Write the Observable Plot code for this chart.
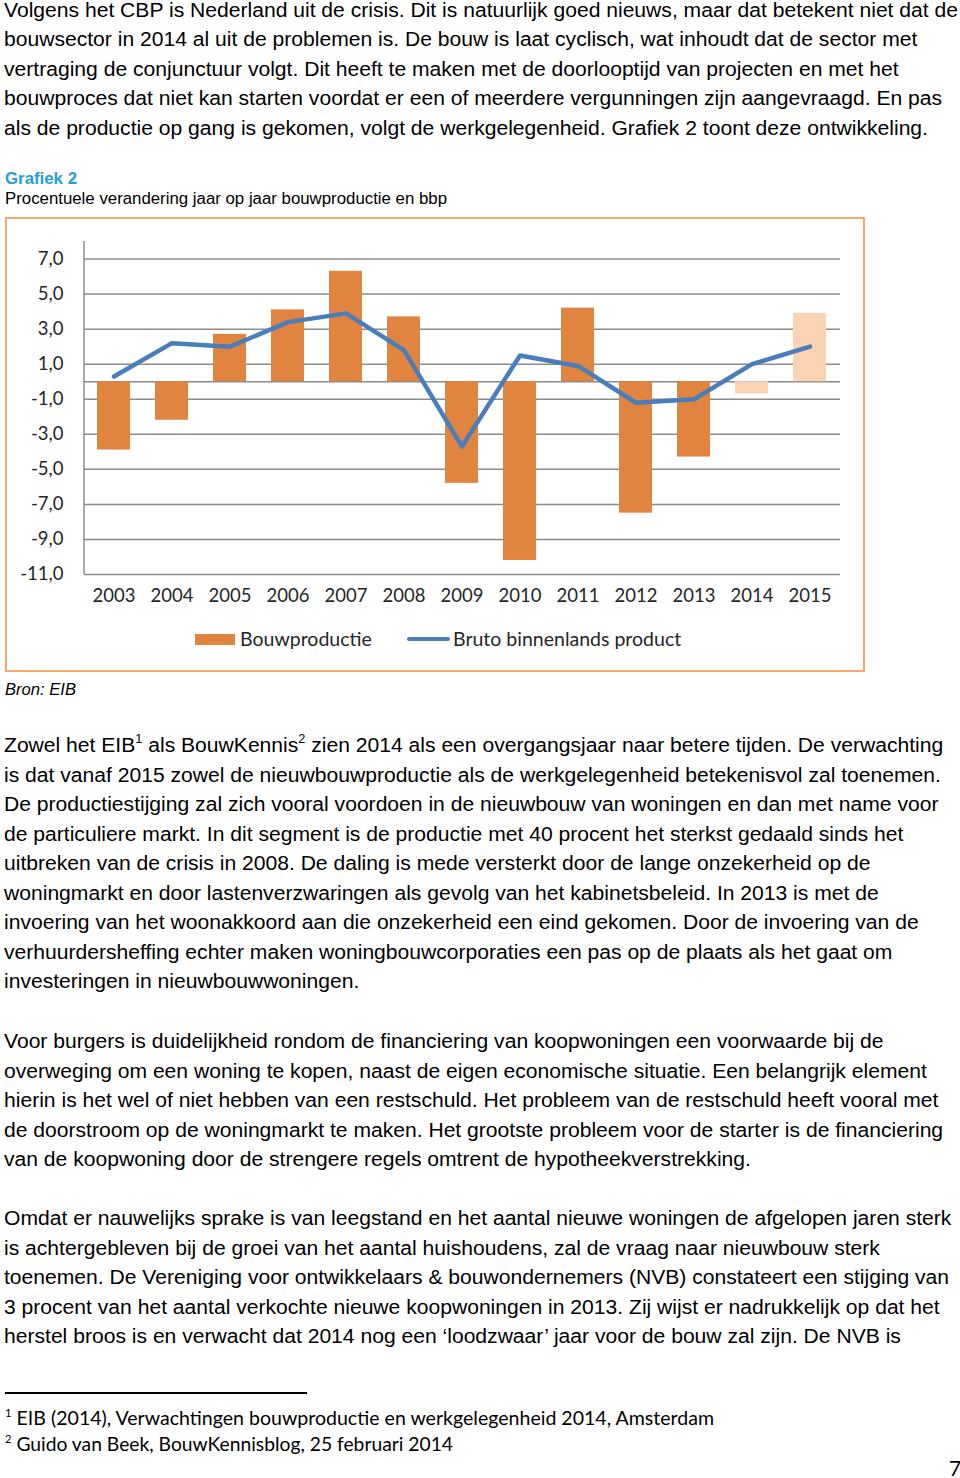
<!DOCTYPE html>
<html><head><meta charset="utf-8">
<script src="https://cdn.jsdelivr.net/npm/d3@7"></script>
<script src="https://cdn.jsdelivr.net/npm/@observablehq/plot@0.6"></script>
<style>
html,body{margin:0;padding:0;background:#fff}
body{width:960px;height:1478px;position:relative;overflow:hidden;font-family:"Liberation Sans",Arial,sans-serif;color:#000}
.ln{position:absolute;left:4px;white-space:nowrap;font-size:20px;line-height:24px;transform-origin:0 50%}
.ln sup{font-size:12px;line-height:0;vertical-align:9px}
.cal{font-family:Lato,"Open Sans",sans-serif}
#box{position:absolute;left:5px;top:217px;width:856px;height:451px;border:2px solid #F5AA6C}
#chart{position:absolute;left:0;top:218px}
.leg{position:absolute;font-family:Lato,sans-serif;font-size:19.5px;line-height:22px;color:#262626;white-space:nowrap}
</style></head><body>
<div id="box"></div>
<div id="chart"></div>
<script>
// ---------- chart data ----------
const years = ["2003","2004","2005","2006","2007","2008","2009","2010","2011","2012","2013","2014","2015"];
const bouwproductie = [-3.9,-2.2,2.7,4.1,6.3,3.7,-5.8,-10.2,4.2,-7.5,-4.3,-0.7,3.9];
const bbp = [0.3,2.2,2.0,3.4,3.9,1.8,-3.7,1.5,0.9,-1.2,-1.0,1.0,2.0];
const forecastYears = ["2014","2015"];
const yTicks = [7,5,3,1,-1,-3,-5,-7,-9,-11];
const seriesNames = ["Bouwproductie","Bruto binnenlands product"];

// ---------- page text ----------
const para1 = [
"Volgens het CBP is Nederland uit de crisis. Dit is natuurlijk goed nieuws, maar dat betekent niet dat de",
"bouwsector in 2014 al uit de problemen is. De bouw is laat cyclisch, wat inhoudt dat de sector met",
"vertraging de conjunctuur volgt. Dit heeft te maken met de doorlooptijd van projecten en met het",
"bouwproces dat niet kan starten voordat er een of meerdere vergunningen zijn aangevraagd. En pas",
"als de productie op gang is gekomen, volgt de werkgelegenheid. Grafiek 2 toont deze ontwikkeling."];
const para2 = [
"Zowel het EIB<sup>1</sup> als BouwKennis<sup>2</sup> zien 2014 als een overgangsjaar naar betere tijden. De verwachting",
"is dat vanaf 2015 zowel de nieuwbouwproductie als de werkgelegenheid betekenisvol zal toenemen.",
"De productiestijging zal zich vooral voordoen in de nieuwbouw van woningen en dan met name voor",
"de particuliere markt. In dit segment is de productie met 40 procent het sterkst gedaald sinds het",
"uitbreken van de crisis in 2008. De daling is mede versterkt door de lange onzekerheid op de",
"woningmarkt en door lastenverzwaringen als gevolg van het kabinetsbeleid. In 2013 is met de",
"invoering van het woonakkoord aan die onzekerheid een eind gekomen. Door de invoering van de",
"verhuurdersheffing echter maken woningbouwcorporaties een pas op de plaats als het gaat om",
"investeringen in nieuwbouwwoningen."];
const para3 = [
"Voor burgers is duidelijkheid rondom de financiering van koopwoningen een voorwaarde bij de",
"overweging om een woning te kopen, naast de eigen economische situatie. Een belangrijk element",
"hierin is het wel of niet hebben van een restschuld. Het probleem van de restschuld heeft vooral met",
"de doorstroom op de woningmarkt te maken. Het grootste probleem voor de starter is de financiering",
"van de koopwoning door de strengere regels omtrent de hypotheekverstrekking."];
const para4 = [
"Omdat er nauwelijks sprake is van leegstand en het aantal nieuwe woningen de afgelopen jaren sterk",
"is achtergebleven bij de groei van het aantal huishoudens, zal de vraag naar nieuwbouw sterk",
"toenemen. De Vereniging voor ontwikkelaars &amp; bouwondernemers (NVB) constateert een stijging van",
"3 procent van het aantal verkochte nieuwe koopwoningen in 2013. Zij wijst er nadrukkelijk op dat het",
"herstel broos is en verwacht dat 2014 nog een ‘loodzwaar’ jaar voor de bouw zal zijn. De NVB is"];
const chartTitle = "Grafiek 2";
const chartSubtitle = "Procentuele verandering jaar op jaar bouwproductie en bbp";
const source = "Bron: EIB";
const footnotes = ["EIB (2014), Verwachtingen bouwproductie en werkgelegenheid 2014, Amsterdam",
                   "Guido van Beek, BouwKennisblog, 25 februari 2014"];

function addLine(html, center, cls, style) {
  const el = document.createElement("div");
  el.className = "ln " + (cls || "");
  el.innerHTML = html;
  el.style.top = (center - 12) + "px";
  if (style) Object.assign(el.style, style);
  document.body.appendChild(el);
  return el;
}
function fitW(el, w) {
  const r = el.getBoundingClientRect().width;
  el.style.transform = `scaleX(${w / r})`;
}

const bodyEls = [];
para1.forEach((t, i) => bodyEls.push(addLine(t, 10 + i * 29.4)));
para2.forEach((t, i) => bodyEls.push(addLine(t, 745 + i * 29.5)));
para3.forEach((t, i) => bodyEls.push(addLine(t, 1041 + i * 29.5)));
para4.forEach((t, i) => bodyEls.push(addLine(t, 1218 + i * 29.5)));
const s = 954 / bodyEls[0].getBoundingClientRect().width;
bodyEls.forEach(el => el.style.transform = `scaleX(${s})`);

const t1 = addLine(chartTitle, 179, "", {fontSize: "16px", fontWeight: "bold", color: "#1E9FD3", left: "5px"});
fitW(t1, 72);
const t2 = addLine(chartSubtitle, 199, "", {fontSize: "16px", left: "5px"});
fitW(t2, 442);
const t3 = addLine(source, 690, "", {fontSize: "16px", fontStyle: "italic", left: "5px"});
fitW(t3, 71);

// footnote rule
const rule = document.createElement("div");
Object.assign(rule.style, {position: "absolute", left: "5px", top: "1392px", width: "302px", height: "1.5px", background: "#000"});
document.body.appendChild(rule);
footnotes.forEach((t, i) => {
  const el = addLine(`<sup style="font-size:11px;vertical-align:8px">${i + 1}</sup> ${t}`, 1418 + i * 26, "cal", {fontSize: "19px", left: "5px"});
  fitW(el, i === 0 ? 709 : 448);
});
const pn = addLine("7", 1468, "cal", {fontSize: "21px", left: "949px"});

// ---------- chart ----------
const data = years.map((y, i) => ({year: y, bouw: bouwproductie[i], bbp: bbp[i], forecast: forecastYears.includes(y)}));
const fmt = d => d.toFixed(1).replace(".", ",");

const leftAxisLine = (index, scales, values, dimensions) => {
  const g = d3.create("svg:line")
    .attr("x1", dimensions.marginLeft).attr("x2", dimensions.marginLeft)
    .attr("y1", scales.y(8)).attr("y2", scales.y(-11))
    .attr("stroke", "#8c8c8c").attr("stroke-width", 1.5);
  return g.node();
};

const plot = Plot.plot({
  width: 870, height: 400,
  marginTop: 23, marginBottom: 44, marginLeft: 84, marginRight: 30,
  style: {fontFamily: "Lato, sans-serif", fontSize: "18.5px", color: "#262626", background: "transparent", overflow: "visible"},
  x: {domain: years, paddingInner: 0.43, paddingOuter: 0.215, label: null, tickSize: 0, tickPadding: 14},
  y: {domain: [-11, 8], ticks: yTicks, tickFormat: fmt, tickSize: 0, tickPadding: 21, label: null},
  marks: [
    Plot.ruleY(yTicks, {stroke: "#8c8c8c", strokeWidth: 1.5}),
    Plot.ruleY([0], {stroke: "#8c8c8c", strokeWidth: 1.5}),
    leftAxisLine,
    Plot.barY(data.filter(d => !d.forecast), {x: "year", y: "bouw", fill: "#E0843F"}),
    Plot.barY(data.filter(d => d.forecast), {x: "year", y: "bouw", fill: "#FBD3B3"}),
    Plot.line(data, {x: "year", y: "bbp", stroke: "#4A7EBB", strokeWidth: 4.5, strokeLinejoin: "round", strokeLinecap: "round"})
  ]
});
document.getElementById("chart").appendChild(plot);

// ---------- legend (below plot, inside box) ----------
const legSw1 = document.createElement("div");
Object.assign(legSw1.style, {position: "absolute", left: "195px", top: "634px", width: "40px", height: "11px", background: "#E0843F"});
document.body.appendChild(legSw1);
const legT1 = document.createElement("div");
legT1.className = "leg"; legT1.textContent = seriesNames[0];
Object.assign(legT1.style, {left: "240px", top: "628px"});
document.body.appendChild(legT1);
const legSw2 = document.createElement("div");
Object.assign(legSw2.style, {position: "absolute", left: "407px", top: "637px", width: "43px", height: "4px", borderRadius: "2px", background: "#4A7EBB"});
document.body.appendChild(legSw2);
const legT2 = document.createElement("div");
legT2.className = "leg"; legT2.textContent = seriesNames[1];
Object.assign(legT2.style, {left: "453px", top: "628px"});
document.body.appendChild(legT2);
</script>
</body></html>
